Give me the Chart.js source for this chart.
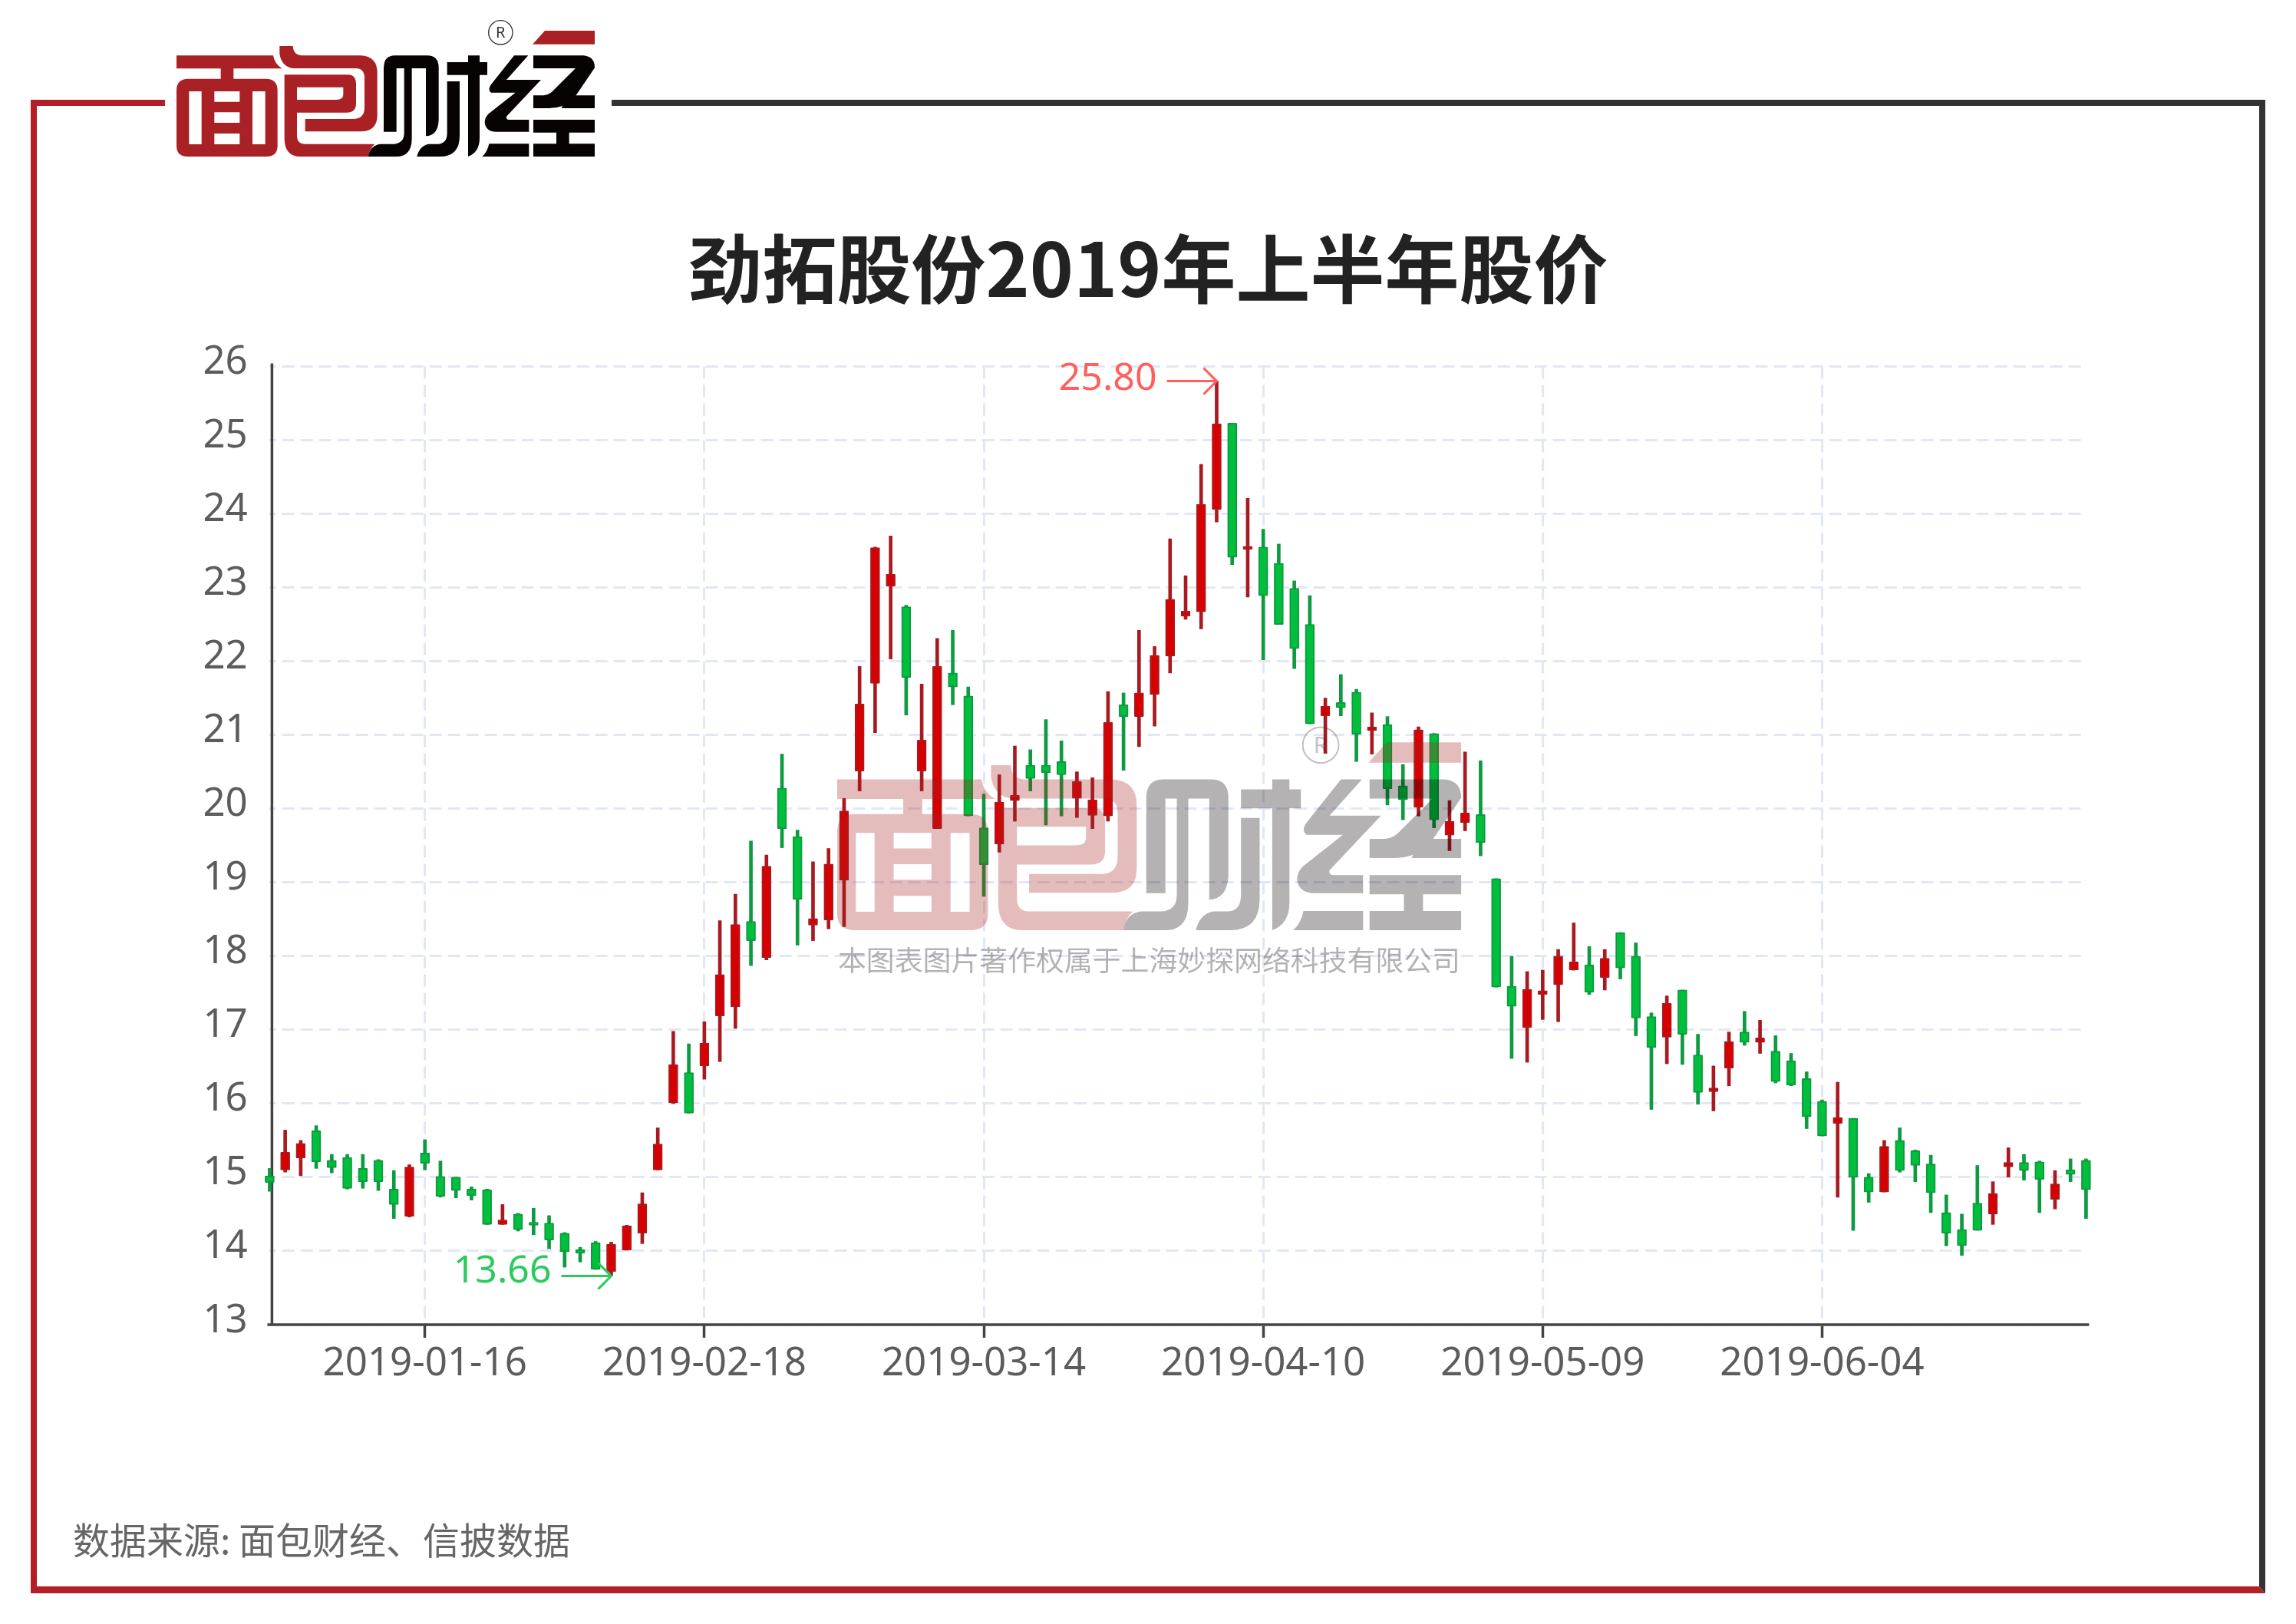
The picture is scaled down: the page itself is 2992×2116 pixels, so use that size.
<!DOCTYPE html>
<html>
<head>
<meta charset="utf-8">
<title>劲拓股份2019年上半年股价</title>
<script src="https://cdn.jsdelivr.net/npm/chart.js@4"></script>
<style>
  html, body { margin:0; padding:0; background:#fff; }
  #page { position:relative; width:2992px; height:2116px; overflow:hidden; background:#fff; }
  #stock { position:absolute; left:0; top:0; }
  #overlay { position:absolute; left:0; top:0; }
  #source { position:absolute; left:95px; top:1975px; font:48px/58px "Noto Sans CJK SC", sans-serif; color:#666; white-space:nowrap; }
</style>
</head>
<body>
<div id="page">
  <canvas id="stock" width="2992" height="2116"></canvas>
  <svg id="overlay" width="2992" height="2116" viewBox="0 0 2992 2116">
    <defs>
      <g id="logo">
        <g transform="translate(225,30) scale(0.33333)" fill="#a92124" fill-rule="evenodd">
          <path d="M15 127H393Q398 160 428 178H238V218H365Q410 218 410 265V480Q410 522 365 522H60Q15 522 15 480V265Q15 218 60 218H188V178H15Z
                   M64 267V474H113V267Z M163 267V308H262V267Z M163 349V390H262V349Z M163 432V474H262V432Z M312 267V474H362V267Z"/>
          <path d="M418 90H470Q472 125 505 127H735Q800 130 800 195V360Q800 424 735 424H518V375H705Q750 375 750 330V215Q750 177 715 177H470Q425 170 418 120Z"/>
          <path d="M437 202H685Q717 202 717 240V315Q717 350 680 350H486V440Q486 473 520 473H790Q770 490 765 522H500Q437 522 437 450Z
                   M486 251V300H640Q667 300 667 280V251Z"/>
        </g>
        <g transform="translate(500,30) scale(0.33333)">
          <path fill="#a92124" d="M630 30H825V83H582Z"/>
          <g fill="#070302">
            <path d="M0 175Q0 127 45 127H170Q215 127 215 175V380Q212 440 165 442V177H110V450Q110 522 50 522H-60Q-55 480 -15 473H40Q80 470 80 430V177H50V425H0Z"/>
            <path d="M248 153H330V127H375V153H405V203H375V450Q375 505 330 522V203H248Z"/>
            <path d="M248 228H297V440Q297 522 220 522H130Q140 480 175 473H215Q248 470 248 430Z"/>
            <path d="M510 127H565L480 222H615L480 365Q478 378 490 378H568V425H440Q400 425 395 390Q395 370 410 355L515 272H420Q405 260 420 240Z"/>
            <path d="M412 472H568V522H385Q405 505 412 472Z"/>
            <path d="M585 127H780Q825 130 825 175L740 300Q700 335 640 333H585V283H625Q650 280 665 262L750 177H585Z"/>
            <path d="M695 333Q705 305 735 283H825V333Z"/>
            <path d="M585 378H825V428H725V472H825V522H585V472H675V428H585Z"/>
          </g>
          <circle cx="457" cy="37" r="47" fill="none" stroke="#333" stroke-width="4"/>
          <text x="457" y="58" font-family="Noto Sans" font-size="60" text-anchor="middle" fill="#333">R</text>
        </g>
      </g>
    </defs>

    <!-- frame -->
    <g fill="#b41f27">
      <rect x="40" y="130" width="175" height="8"/>
      <rect x="40" y="130" width="8" height="1946"/>
      <path d="M40 2067H2944L2952 2076H40Z"/>
    </g>
    <g fill="#333">
      <rect x="797" y="130" width="2155" height="8"/>
      <path d="M2944 130H2952V2076L2944 2067Z"/>
    </g>

    <use href="#logo"/>

    <!-- watermark over the plot -->
    <g opacity="0.3">
      <use href="#logo" transform="translate(747.8,907.6) scale(1.492)"/>
    </g>
    <text x="1092" y="1265" font-family="Noto Sans CJK SC" font-size="36.9" textLength="811" fill="#000" fill-opacity="0.3">本图表图片著作权属于上海妙探网络科技有限公司</text>
  </svg>
  <div id="source">数据来源: 面包财经、信披数据</div>
</div>

<script>
const dates = [
  "2019-01-02","2019-01-03","2019-01-04","2019-01-07","2019-01-08","2019-01-09","2019-01-10","2019-01-11","2019-01-14","2019-01-15",
  "2019-01-16","2019-01-17","2019-01-18","2019-01-21","2019-01-22","2019-01-23","2019-01-24","2019-01-25","2019-01-28","2019-01-29",
  "2019-01-30","2019-01-31","2019-02-01","2019-02-11","2019-02-12","2019-02-13","2019-02-14","2019-02-15","2019-02-18","2019-02-19",
  "2019-02-20","2019-02-21","2019-02-22","2019-02-25","2019-02-26","2019-02-27","2019-02-28","2019-03-01","2019-03-04","2019-03-05",
  "2019-03-06","2019-03-07","2019-03-08","2019-03-11","2019-03-12","2019-03-13","2019-03-14","2019-03-15","2019-03-18","2019-03-19",
  "2019-03-20","2019-03-21","2019-03-22","2019-03-25","2019-03-26","2019-03-27","2019-03-28","2019-03-29","2019-04-01","2019-04-02",
  "2019-04-03","2019-04-04","2019-04-08","2019-04-09","2019-04-10","2019-04-11","2019-04-12","2019-04-15","2019-04-16","2019-04-17",
  "2019-04-18","2019-04-19","2019-04-22","2019-04-23","2019-04-24","2019-04-25","2019-04-26","2019-04-29","2019-04-30","2019-05-06",
  "2019-05-07","2019-05-08","2019-05-09","2019-05-10","2019-05-13","2019-05-14","2019-05-15","2019-05-16","2019-05-17","2019-05-20",
  "2019-05-21","2019-05-22","2019-05-23","2019-05-24","2019-05-27","2019-05-28","2019-05-29","2019-05-30","2019-05-31","2019-06-03",
  "2019-06-04","2019-06-05","2019-06-06","2019-06-10","2019-06-11","2019-06-12","2019-06-13","2019-06-14","2019-06-17","2019-06-18",
  "2019-06-19","2019-06-20","2019-06-21","2019-06-24","2019-06-25","2019-06-26","2019-06-27","2019-06-28"
];

const opens = [
  15.02,15.10,15.26,15.63,15.23,15.27,15.12,15.23,14.84,14.47,
  15.33,15.01,15.00,14.84,14.83,14.36,14.50,14.39,14.38,14.24,
  14.02,14.11,13.72,14.01,14.24,15.10,16.01,16.42,16.51,17.19,
  17.31,18.47,17.98,20.28,19.62,18.42,18.49,19.03,20.51,21.70,
  23.02,22.74,20.51,19.73,21.84,21.53,19.74,19.52,20.11,20.59,
  20.59,20.64,20.14,19.91,19.90,21.41,21.25,21.55,22.07,22.61,
  22.67,24.06,25.23,23.52,23.55,23.33,22.99,22.50,21.26,21.44,
  21.58,21.06,21.14,20.31,20.02,21.02,19.64,19.81,19.92,19.05,
  17.59,17.03,17.48,17.61,17.81,17.88,17.71,18.32,18.00,17.18,
  16.90,17.54,16.66,16.16,16.48,16.97,16.83,16.71,16.58,16.34,
  16.03,15.73,15.80,15.00,14.80,15.50,15.36,15.18,14.52,14.29,
  14.65,14.50,15.14,15.20,15.21,14.70,15.10,15.23
];
const closes = [
  14.93,15.34,15.46,15.21,15.13,14.85,14.94,14.94,14.63,15.14,
  15.19,14.74,14.82,14.75,14.36,14.42,14.29,14.35,14.15,13.99,
  13.97,13.75,14.09,14.34,14.64,15.45,16.53,15.87,16.82,17.75,
  18.43,18.21,19.22,19.73,18.77,18.51,19.25,19.97,21.42,23.54,
  23.18,21.78,20.93,21.93,21.65,19.90,19.24,20.09,20.18,20.41,
  20.49,20.46,20.37,20.12,21.17,21.25,21.57,22.08,22.84,22.68,
  24.13,25.22,23.41,23.56,22.89,22.50,22.17,21.15,21.39,21.37,
  21.01,21.11,20.27,20.12,21.07,19.85,19.83,19.94,19.54,17.58,
  17.32,17.55,17.53,18.00,17.92,17.51,17.97,17.84,17.16,16.76,
  17.36,16.94,16.15,16.21,16.84,16.83,16.89,16.30,16.25,15.82,
  15.56,15.81,15.00,14.80,15.42,15.09,15.16,14.79,14.24,14.07,
  14.28,14.78,15.20,15.09,14.97,14.91,15.04,14.83
];
const lows = [
  14.81,15.07,15.02,15.12,15.06,14.84,14.85,14.82,14.44,14.46,
  15.10,14.73,14.72,14.69,14.36,14.36,14.27,14.22,14.03,13.78,
  13.85,13.75,13.66,14.01,14.10,15.10,16.00,15.87,16.33,16.57,
  17.02,17.87,17.95,19.47,18.15,18.21,18.37,18.40,20.24,21.03,
  22.03,21.27,20.24,19.73,21.41,19.90,18.81,19.41,19.83,20.24,
  19.78,19.90,19.88,19.73,19.83,20.52,20.84,21.12,21.84,22.57,
  22.44,23.89,23.31,22.87,22.02,22.50,21.90,21.15,20.75,21.26,
  20.64,20.74,20.05,19.85,19.90,19.74,19.43,19.70,19.36,17.58,
  16.61,16.56,17.14,17.11,17.81,17.48,17.54,17.69,16.92,15.92,
  16.54,16.53,15.99,15.90,16.24,16.79,16.68,16.28,16.24,15.66,
  15.56,14.73,14.28,14.66,14.80,15.07,14.94,14.52,14.07,13.94,
  14.28,14.36,15.00,14.96,14.52,14.57,14.94,14.44
];
const highs = [
  15.12,15.64,15.50,15.70,15.31,15.31,15.31,15.24,15.09,15.17,
  15.51,15.22,15.00,14.87,14.84,14.63,14.51,14.58,14.48,14.25,
  14.05,14.13,14.12,14.35,14.79,15.67,16.98,16.81,17.11,18.48,
  18.84,19.56,19.37,20.74,19.71,19.28,19.46,20.14,21.93,23.55,
  23.70,22.76,21.69,22.31,22.42,21.65,20.20,20.46,20.85,20.80,
  21.21,20.92,20.50,20.42,21.59,21.57,22.42,22.20,23.66,23.16,
  24.67,25.80,25.23,24.21,23.79,23.59,23.09,22.89,21.50,21.82,
  21.62,21.30,21.25,20.60,21.11,21.02,20.11,20.77,20.65,19.05,
  18.00,17.79,17.81,18.09,18.45,18.13,18.09,18.32,18.18,17.23,
  17.46,17.54,16.94,16.51,16.97,17.25,17.13,16.92,16.68,16.43,
  16.05,16.29,15.80,15.05,15.50,15.67,15.37,15.30,14.76,14.50,
  15.16,14.94,15.40,15.31,15.22,15.09,15.25,15.25
];

const tickDates = ["2019-01-16","2019-02-18","2019-03-14","2019-04-10","2019-05-09","2019-06-04"];
const markIndexes = [61, 22];
const markValues = [25.80, 13.66];

const RED = "#d60000", RED_DARK = "#a81a20";
const GREEN = "#00bf3c", GREEN_DARK = "#0d9a40";
const AXIS = "#444";
const GRID = "#e1e7f4";
const LABEL = "#5c5c5c";
const FONT = '"Noto Sans", "Noto Sans CJK SC", sans-serif';

function isUp(i){
  return closes[i] >= opens[i];
}

// axis lines sit a little off the first candle, so they are stroked here
const axisLines = {
  id: "axisLines",
  beforeDatasetsDraw(chart){
    const { ctx, chartArea: a } = chart;
    ctx.save();
    ctx.strokeStyle = AXIS;
    ctx.lineWidth = 3.5;
    ctx.beginPath();
    ctx.moveTo(a.left + 3, a.top - 4);
    ctx.lineTo(a.left + 3, a.bottom);
    ctx.moveTo(a.left - 3, a.bottom);
    ctx.lineTo(a.right + 4, a.bottom);
    ctx.stroke();
    ctx.restore();
  }
};

function drawMark(chart, i, text, color, textDx, textDy){
  const { ctx, scales } = chart;
  const x = scales.x.getPixelForValue(markIndexes[i]);
  const y = scales.y.getPixelForValue(markValues[i]);
  ctx.strokeStyle = color;
  ctx.lineWidth = 3;
  ctx.beginPath();
  ctx.moveTo(x - 65, y);
  ctx.lineTo(x, y);
  ctx.moveTo(x - 17, y - 17);
  ctx.lineTo(x, y);
  ctx.lineTo(x - 17, y + 17);
  ctx.stroke();
  ctx.fillStyle = color;
  ctx.font = "50px " + FONT;
  ctx.textAlign = "right";
  ctx.textBaseline = "middle";
  ctx.fillText(text, x - textDx, y + textDy);
}

const markers = {
  id: "markers",
  afterDatasetsDraw(chart){
    chart.ctx.save();
    drawMark(chart, 0, markValues[0].toFixed(2), "#ff5f5f", 78, -3);
    drawMark(chart, 1, markValues[1].toFixed(2), "#2cc95c", 78, -6);
    chart.ctx.restore();
  }
};

Chart.defaults.font.family = FONT;

new Chart(document.getElementById("stock"), {
  type: "bar",
  data: {
    labels: dates,
    datasets: [
      {
        label: "body",
        data: opens.map((o, i) => [o, closes[i]]),
        grouped: false,
        order: 1,
        barThickness: 12,
        clip: false,
        borderSkipped: false,
        borderWidth: 2,
        borderRadius: 1,
        backgroundColor: opens.map((o, i) => isUp(i) ? RED : GREEN),
        borderColor: opens.map((o, i) => isUp(i) ? RED_DARK : GREEN_DARK)
      },
      {
        label: "wick",
        data: lows.map((l, i) => [l, highs[i]]),
        grouped: false,
        order: 2,
        barThickness: 4,
        clip: false,
        borderSkipped: false,
        borderWidth: 0,
        backgroundColor: lows.map((l, i) => isUp(i) ? RED_DARK : GREEN_DARK)
      }
    ]
  },
  options: {
    responsive: false,
    animation: false,
    layout: { padding: { left: 273.6, right: 273.6, top: 0, bottom: 290 } },
    plugins: {
      legend: { display: false },
      tooltip: { enabled: false },
      title: {
        display: true,
        text: "劲拓股份2019年上半年股价",
        color: "#222",
        font: { family: '"Noto Sans CJK SC", sans-serif', size: 97, weight: "bold" },
        padding: { top: 292, bottom: 69 }
      }
    },
    scales: {
      x: {
        offset: false,
        afterFit: axis => { axis.height = 100; },
        afterBuildTicks: axis => {
          axis.ticks = axis.ticks.filter(t => tickDates.includes(dates[t.value]));
        },
        grid: {
          offset: false,
          color: GRID,
          lineWidth: 3,
          tickColor: AXIS,
          tickWidth: 3.5,
          tickLength: 17
        },
        border: { display: false, dash: [16, 8] },
        ticks: {
          autoSkip: false,
          maxRotation: 0,
          minRotation: 0,
          padding: 4,
          color: LABEL,
          font: { size: 51 }
        }
      },
      y: {
        min: 13,
        max: 26,
        afterFit: axis => { axis.width = 77.8; },
        grid: { color: GRID, lineWidth: 3, drawTicks: false },
        border: { display: false, dash: [16, 8], dashOffset: 7.4 },
        ticks: {
          stepSize: 1,
          // mirrored so the labels are not clipped to the narrow axis box
          mirror: true,
          padding: -87,
          labelOffset: -5,
          color: LABEL,
          font: { size: 51 }
        }
      }
    }
  },
  plugins: [axisLines, markers]
});
</script>
</body>
</html>
